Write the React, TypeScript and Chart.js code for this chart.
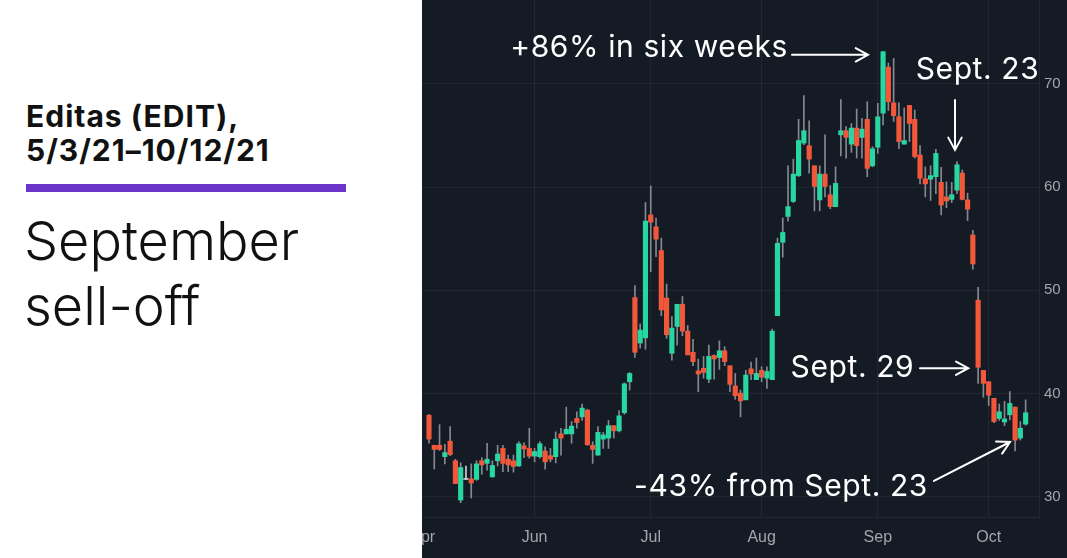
import React, { useEffect, useRef } from "react";
import { Chart, registerables } from "chart.js";

Chart.register(...registerables);

// Editas (EDIT) daily candles, 5/3/21 - 10/12/21 (one entry per trading day)
const opens = [
  37.9, 35.0, 35.0, 33.9, 35.4, 33.5, 29.7, 31.7, 31.75, 31.7,
  33.5, 33.25, 31.95, 33.5, 34.7, 33.65, 33.5, 33.0, 34.95, 34.7,
  33.95, 33.9, 34.45, 34.0, 33.9, 36.1, 36.1, 36.1, 37.6, 37.75,
  38.4, 35.0, 34.05, 35.6, 35.7, 36.9, 36.4, 38.15, 41.15, 49.3,
  44.9, 45.4, 57.3, 56.15, 53.85, 49.25, 43.9, 46.5, 48.65, 46.05,
  44.0, 42.2, 42.45, 41.4, 43.7, 43.5, 44.15, 42.7, 40.75, 40.05,
  39.4, 42.4, 41.35, 42.25, 41.5, 41.35, 47.55, 54.65, 57.15, 58.6,
  61.1, 64.25, 64.0, 62.05, 58.75, 61.25, 59.25, 58.1, 65.05, 65.45,
  64.15, 65.7, 64.8, 66.55, 62.05, 63.85, 67.15, 71.6, 68.15, 66.8,
  64.15, 67.9, 66.55, 63.1, 60.8, 60.75, 61.0, 60.45, 59.05, 58.8,
  59.7, 61.35, 58.75, 55.35, 49.05, 42.25, 41.15, 39.55, 37.6, 37.25,
  37.95, 38.7, 35.7, 37.05,
];
const highs = [
  38.0, 35.0, 37.0, 35.1, 36.8, 33.65, 33.3, 33.0, 33.2, 33.5,
  33.8, 35.2, 33.5, 35.0, 35.0, 34.05, 34.05, 35.35, 35.25, 36.65,
  34.7, 35.35, 34.85, 34.7, 36.3, 36.65, 38.7, 37.3, 38.25, 39.0,
  38.5, 35.35, 36.8, 36.25, 37.4, 36.9, 38.35, 41.05, 42.05, 50.45,
  46.75, 58.5, 60.1, 57.0, 55.05, 50.6, 47.45, 48.65, 49.4, 46.6,
  45.25, 43.35, 43.6, 44.7, 43.75, 45.1, 44.55, 42.7, 41.95, 40.35,
  42.25, 43.05, 43.45, 42.6, 42.6, 46.25, 55.05, 57.0, 62.05, 62.7,
  66.55, 68.85, 66.4, 62.05, 62.05, 65.05, 60.15, 61.95, 68.45, 65.85,
  66.15, 67.55, 66.65, 68.25, 63.9, 68.1, 73.1, 72.0, 72.45, 68.15,
  67.65, 67.9, 67.45, 64.0, 61.95, 62.05, 63.65, 61.9, 60.5, 60.45,
  62.45, 61.65, 59.4, 55.8, 50.3, 42.25, 41.15, 39.55, 39.0, 39.25,
  40.2, 38.7, 37.3, 39.4,
];
const lows = [
  35.2, 32.7, 34.5, 33.2, 34.0, 31.3, 29.45, 31.7, 29.9, 31.6,
  32.2, 32.6, 31.9, 33.0, 32.45, 32.45, 32.4, 32.95, 33.8, 33.75,
  33.4, 33.75, 32.7, 33.4, 33.3, 34.05, 36.1, 35.2, 36.65, 37.4,
  35.0, 33.25, 34.05, 34.7, 34.7, 35.7, 36.3, 38.0, 40.35, 43.5,
  44.4, 44.3, 51.8, 53.25, 47.55, 45.35, 43.25, 44.7, 45.6, 43.75,
  42.7, 40.2, 41.5, 41.05, 41.4, 42.35, 42.7, 40.2, 39.45, 37.75,
  39.4, 41.35, 41.35, 41.15, 40.5, 41.35, 47.55, 53.2, 56.7, 58.5,
  61.0, 64.1, 61.35, 57.7, 57.7, 59.05, 57.9, 58.1, 63.0, 62.8,
  63.35, 62.8, 62.8, 61.0, 61.95, 63.25, 66.0, 67.4, 66.35, 63.7,
  64.15, 64.4, 62.8, 60.3, 59.05, 58.7, 59.35, 57.3, 58.0, 58.5,
  59.35, 58.75, 56.75, 52.05, 41.0, 39.65, 38.85, 37.2, 37.4, 36.9,
  37.45, 34.45, 35.5, 36.95,
];
const closes = [
  35.6, 34.6, 34.6, 34.3, 34.1, 31.3, 32.85, 31.7, 31.35, 33.2,
  33.1, 33.65, 33.05, 34.15, 33.25, 33.1, 32.95, 35.15, 34.65, 33.95,
  34.4, 35.15, 33.4, 33.65, 35.6, 35.7, 36.55, 36.85, 37.2, 38.6,
  35.05, 34.6, 36.25, 36.0, 36.9, 36.4, 37.85, 40.95, 41.95, 44.0,
  46.15, 56.7, 56.6, 54.95, 48.1, 45.7, 46.35, 48.65, 46.05, 43.75,
  43.1, 41.9, 42.05, 43.6, 43.35, 44.15, 43.1, 40.9, 39.8, 39.3,
  41.8, 41.9, 41.95, 41.6, 42.15, 46.05, 54.55, 55.6, 58.1, 61.25,
  64.5, 65.45, 62.7, 60.05, 61.25, 60.05, 58.1, 60.35, 65.45, 64.8,
  65.7, 64.0, 65.6, 61.8, 63.7, 66.8, 73.1, 68.25, 66.9, 64.4,
  64.5, 66.15, 62.95, 60.85, 60.3, 61.1, 63.25, 58.25, 58.65, 59.25,
  62.15, 58.8, 57.85, 52.55, 42.55, 41.0, 39.85, 37.3, 38.25, 37.55,
  39.05, 35.5, 36.65, 38.15,
];

// x-axis: bar index of the first trading day of each month
const monthTickIdx = [-1.2, 20, 42, 63, 85, 106];
const monthTickLabels = ["Apr", "Jun", "Jul", "Aug", "Sep", "Oct"];
const priceTicks = [30, 40, 50, 60, 70];

// annotations in data coordinates: [barIndex, price]
const annotations = [
  { text: "+86% in six weeks", align: "right", at: [67.99, 72.6], from: [68.75, 72.79], to: [83.14, 72.79] },
  { text: "Sept. 23", align: "left", at: [92.18, 70.43], from: [99.62, 68.43], to: [99.62, 63.59] },
  { text: "Sept. 29", align: "right", at: [91.91, 41.59], from: [92.99, 42.46], to: [102.14, 42.46] },
  { text: "-43% from Sept. 23", align: "right", at: [94.5, 30.1], from: [95.64, 31.55], to: [110.04, 35.32] },
];

const UP = "#27d6a1";
const DOWN = "#f3573a";
const DOJI = "#cfd2d6";
const WICK = "#858990";
const BG = "#141b25";
const GRID = "rgba(255,255,255,0.055)";
const TICK = "#a2a6ad";
const SANS = "Inter, 'Noto Sans', 'Liberation Sans', sans-serif";

const annotationPlugin = {
  id: "annos",
  afterDatasetsDraw(chart: any) {
    const { ctx } = chart;
    const xs = chart.scales.x;
    const ys = chart.scales.y;
    ctx.save();
    ctx.fillStyle = "#ffffff";
    ctx.strokeStyle = "#ffffff";
    ctx.lineWidth = 2;
    ctx.lineCap = "round";
    ctx.font = `400 30px ${SANS}`;
    try {
      (ctx as any).letterSpacing = "0.6px";
    } catch (e) {}
    ctx.textBaseline = "alphabetic";
    for (const a of annotations) {
      ctx.textAlign = a.align as CanvasTextAlign;
      ctx.fillText(a.text, xs.getPixelForValue(a.at[0]), ys.getPixelForValue(a.at[1]));
      const x1 = xs.getPixelForValue(a.from[0]);
      const y1 = ys.getPixelForValue(a.from[1]);
      const x2 = xs.getPixelForValue(a.to[0]);
      const y2 = ys.getPixelForValue(a.to[1]);
      ctx.beginPath();
      ctx.moveTo(x1, y1);
      ctx.lineTo(x2, y2);
      const ang = Math.atan2(y2 - y1, x2 - x1);
      const hl = 14;
      const spread = 0.5;
      ctx.moveTo(x2 - hl * Math.cos(ang - spread), y2 - hl * Math.sin(ang - spread));
      ctx.lineTo(x2, y2);
      ctx.lineTo(x2 - hl * Math.cos(ang + spread), y2 - hl * Math.sin(ang + spread));
      ctx.stroke();
    }
    ctx.restore();
  },
};

function CandleChart() {
  const ref = useRef<HTMLCanvasElement | null>(null);
  useEffect(() => {
    if (!ref.current) return;
    const colorFor = (i: number) =>
      closes[i] === opens[i] ? DOJI : closes[i] > opens[i] ? UP : DOWN;
    const chart = new Chart(ref.current, {
      type: "bar",
      data: {
        datasets: [
          {
            label: "wick",
            data: opens.map((_, i) => ({ x: i, y: [lows[i], highs[i]] })) as any,
            backgroundColor: opens.map((_, i) => (closes[i] === opens[i] ? DOJI : WICK)),
            barThickness: 1,
            grouped: false,
            borderWidth: 0,
            order: 2,
          } as any,
          {
            label: "body",
            data: opens.map((o, i) => ({ x: i, y: [o, closes[i]] })) as any,
            backgroundColor: opens.map((_, i) => colorFor(i)),
            barThickness: 4.5,
            minBarLength: 1,
            grouped: false,
            borderWidth: 0,
            order: 1,
          } as any,
        ],
      },
      options: {
        animation: false,
        responsive: true,
        maintainAspectRatio: false,
        layout: { padding: 0 },
        plugins: { legend: { display: false }, tooltip: { enabled: false } },
        scales: {
          x: {
            type: "linear",
            min: -8.9,
            max: 115.53,
            offset: false,
            afterBuildTicks: (s: any) => {
              s.ticks = monthTickIdx.map((v) => ({ value: v }));
            },
            afterFit: (s: any) => {
              s.height = 41;
              s.paddingLeft = 0;
              s.paddingRight = 0;
            },
            ticks: {
              autoSkip: false,
              maxRotation: 0,
              padding: 11,
              color: TICK,
              font: { family: "'Liberation Sans', Arial, sans-serif", size: 16 },
              callback: (_v: any, i: number) => monthTickLabels[i],
            },
            grid: {
              offset: false,
              drawTicks: false,
              color: (c: any) => (c.index === 0 ? "rgba(0,0,0,0)" : GRID),
            },
            border: { display: true, color: GRID },
          } as any,
          y: {
            type: "linear",
            position: "right",
            min: 28.06,
            max: 78.1,
            afterBuildTicks: (s: any) => {
              s.ticks = priceTicks.map((v) => ({ value: v }));
            },
            afterFit: (s: any) => {
              s.width = 28;
              s.paddingTop = 0;
              s.paddingBottom = 0;
            },
            ticks: {
              padding: 5,
              color: TICK,
              font: { family: "'Liberation Sans', Arial, sans-serif", size: 15 },
            },
            grid: { drawTicks: false, color: GRID },
            border: { display: true, color: GRID },
          } as any,
        },
      },
      plugins: [annotationPlugin],
    });
    return () => chart.destroy();
  }, []);
  return (
    <div style={{ position: "absolute", left: -40, top: 0, width: 685, height: 558 }}>
      <canvas ref={ref} />
    </div>
  );
}

const titleStyle: React.CSSProperties = {
  position: "absolute",
  left: 26,
  fontSize: 30,
  lineHeight: "30px",
  fontWeight: 700,
  letterSpacing: "1px",
  whiteSpace: "nowrap",
};
const headStyle: React.CSSProperties = {
  position: "absolute",
  left: 24,
  fontSize: 54,
  lineHeight: "54px",
  fontWeight: 300,
  whiteSpace: "nowrap",
};

export default function App() {
  useEffect(() => {
    document.body.style.margin = "0";
  }, []);
  return (
    <div style={{ position: "absolute", left: 0, top: 0, width: 1067, height: 558, overflow: "hidden", background: "#ffffff" }}>
      <div style={{ position: "absolute", left: 422, top: 0, width: 645, height: 558, overflow: "hidden", background: BG }}>
        <CandleChart />
      </div>
      <div style={{ position: "absolute", left: 0, top: 0, width: 422, height: 558, background: "#ffffff", fontFamily: SANS, color: "#111111" }}>
        <div style={{ ...titleStyle, top: 100.8 }}>Editas (EDIT),</div>
        <div style={{ ...titleStyle, top: 135 }}>5/3/21–10/12/21</div>
        <div style={{ position: "absolute", left: 26, top: 184, width: 320, height: 7.5, background: "#6a35c8" }} />
        <div style={{ ...headStyle, top: 214.3 }}>September</div>
        <div style={{ ...headStyle, top: 279.3 }}>sell-off</div>
      </div>
    </div>
  );
}
